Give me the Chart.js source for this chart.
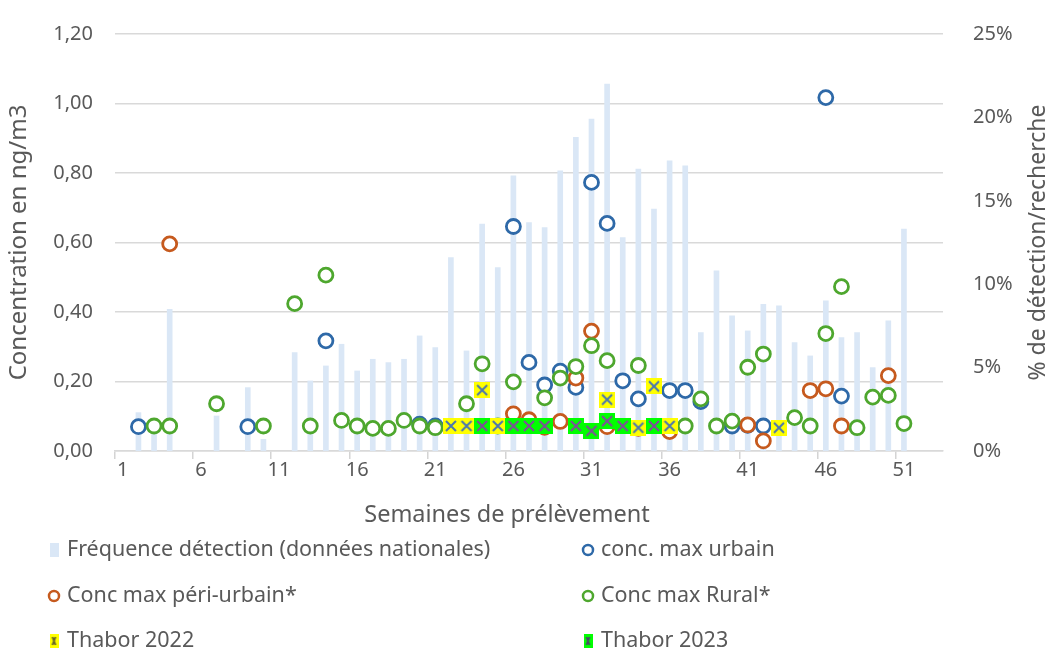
<!DOCTYPE html>
<html>
<head>
<meta charset="utf-8">
<script src="https://cdn.jsdelivr.net/npm/chart.js@4.4.0/dist/chart.umd.min.js"></script>
<style>
  html, body { margin: 0; padding: 0; background: #fff; }
  canvas { display: block; }
</style>
</head>
<body>
<canvas id="chart" width="1050" height="652"></canvas>
<script>
// semaines 1..53
const weeks = [1, 2, 3, 4, 5, 6, 7, 8, 9, 10, 11, 12, 13, 14, 15, 16, 17, 18, 19, 20,
  21, 22, 23, 24, 25, 26, 27, 28, 29, 30, 31, 32, 33, 34, 35, 36, 37, 38, 39, 40,
  41, 42, 43, 44, 45, 46, 47, 48, 49, 50, 51, 52, 53];

// fréquence de détection (%), données nationales
const frequence = [null, 2.3, 1.5, 8.5, null, null, 2.1, null, 3.8, 0.7,
  null, 5.9, 4.2, 5.1, 6.4, 4.8, 5.5, 5.3, 5.5, 6.9,
  6.2, 11.6, 6.0, 13.6, 11.0, 16.5, 13.7, 13.4, 16.8, 18.8,
  19.9, 22.0, 12.8, 16.9, 14.5, 17.4, 17.1, 7.1, 10.8, 8.1,
  7.2, 8.8, 8.7, 6.5, 5.7, 9.0, 6.8, 7.1, 5.0, 7.8,
  13.3, null, null];

// concentrations max (ng/m3)
const urbain = [null, 0.07, null, null, null, null, null, null, 0.07, null,
  null, null, null, 0.317, null, null, null, null, null, 0.077,
  0.072, null, null, null, null, 0.646, 0.255, 0.19, 0.23, 0.183,
  0.773, 0.655, 0.202, 0.15, null, 0.174, 0.174, 0.142, null, 0.072,
  0.074, 0.072, null, null, null, 1.017, 0.158, null, null, null,
  null, null, null];

const periUrbain = [null, null, null, 0.596, null, null, null, null, null, null,
  null, null, null, null, null, null, null, null, null, null,
  null, null, null, null, null, 0.107, 0.09, 0.068, 0.085, 0.21,
  0.345, 0.07, null, 0.065, null, 0.056, null, null, null, null,
  0.075, 0.029, null, null, 0.174, 0.179, 0.072, null, null, 0.217,
  null, null, null];

const rural = [null, null, 0.072, 0.072, null, null, 0.136, null, null, 0.072,
  null, 0.424, 0.072, 0.506, 0.088, 0.072, 0.065, 0.065, 0.088, 0.072,
  0.067, null, 0.136, 0.251, 0.072, 0.199, null, 0.153, 0.21, 0.243,
  0.303, 0.26, null, 0.246, null, null, 0.072, 0.15, 0.072, 0.086,
  0.241, 0.279, null, 0.096, 0.072, 0.338, 0.473, 0.067, 0.155, 0.16,
  0.079, null, null];

const thabor2022 = [null, null, null, null, null, null, null, null, null, null,
  null, null, null, null, null, null, null, null, null, null,
  null, 0.072, 0.072, 0.175, 0.072, null, null, null, null, null,
  null, 0.148, null, 0.067, 0.186, 0.072, null, null, null, null,
  null, null, 0.067, null, null, null, null, null, null, null,
  null, null, null];

const thabor2023 = [null, null, null, null, null, null, null, null, null, null,
  null, null, null, null, null, null, null, null, null, null,
  null, null, null, 0.072, null, 0.072, 0.072, 0.072, null, 0.072,
  0.058, 0.086, 0.072, null, 0.072, null, null, null, null, null,
  null, null, null, null, null, null, null, null, null, null,
  null, null, null];

const TEXT = '#595959';
const FONT = '"Noto Sans", sans-serif';
const BAR = '#dae7f6';
const BLUE = '#2e69a8';
const ORANGE = '#c65a1e';
const GREEN = '#4ea72e';
const X_TITLE = 'Semaines de prélèvement';
const RIGHT_TITLE = '% de détection/recherche';

function crossMarker(fill, stroke, w, h) {
  const c = document.createElement('canvas');
  c.width = w;
  c.height = h;
  const g = c.getContext('2d');
  g.fillStyle = fill;
  g.fillRect(0, 0, w, h);
  g.strokeStyle = stroke;
  g.lineWidth = 2;
  g.beginPath();
  g.moveTo(3, 3); g.lineTo(w - 3, h - 3);
  g.moveTo(w - 3, 3); g.lineTo(3, h - 3);
  g.stroke();
  return c;
}

const mark2022 = crossMarker('#ffff00', '#4a76b0', 16, 16);
const mark2023 = crossMarker('#00ff00', '#7f4f9a', 16, 16);
const leg2022 = crossMarker('#ffff00', '#6a6a2a', 9, 14);
const leg2023 = crossMarker('#00ff00', '#4a4a6a', 9, 14);

function circleSet(label, data, color, order) {
  return {
    type: 'line',
    label: label,
    data: data,
    showLine: false,
    yAxisID: 'y',
    pointStyle: 'circle',
    pointRadius: 7,
    pointBorderWidth: 2.8,
    pointBorderColor: color,
    pointBackgroundColor: '#ffffff',
    borderColor: color,
    order: order
  };
}

// légende en 2 colonnes, titre de l'axe X centré sur le graphique, titre de l'axe droit (bas -> haut)
const extras = {
  id: 'extras',
  afterDraw(chart) {
    const ctx = chart.ctx;
    const area = chart.chartArea;
    ctx.save();
    ctx.fillStyle = TEXT;
    ctx.textAlign = 'center';
    ctx.textBaseline = 'middle';
    ctx.font = '23.5px ' + FONT;
    ctx.fillText(X_TITLE, 507, 515);
    ctx.font = '23px ' + FONT;
    ctx.translate(1038, (area.top + area.bottom) / 2);
    ctx.rotate(-Math.PI / 2);
    ctx.fillText(RIGHT_TITLE, 0, 0);
    ctx.restore();

    const cols = [54, 588];
    const rows = [550, 596, 641];
    ctx.save();
    ctx.font = '21.5px ' + FONT;
    ctx.textBaseline = 'middle';
    chart.data.datasets.forEach((ds, i) => {
      const x = cols[i % 2];
      const y = rows[Math.floor(i / 2)];
      if (ds.type === 'bar') {
        ctx.fillStyle = BAR;
        ctx.fillRect(x - 4, y - 7, 9, 14);
      } else if (ds.pointStyle === 'circle') {
        ctx.beginPath();
        ctx.arc(x, y, 5, 0, Math.PI * 2);
        ctx.fillStyle = '#fff';
        ctx.fill();
        ctx.lineWidth = 2.5;
        ctx.strokeStyle = ds.pointBorderColor;
        ctx.stroke();
      } else {
        const img = ds.legendMark;
        ctx.drawImage(img, x - img.width / 2, y - img.height / 2);
      }
      ctx.fillStyle = TEXT;
      ctx.fillText(ds.label, x + 13, y);
    });
    ctx.restore();
  }
};

new Chart(document.getElementById('chart'), {
  data: {
    labels: weeks,
    datasets: [
      {
        type: 'bar',
        label: 'Fréquence détection (données nationales)',
        data: frequence,
        yAxisID: 'y1',
        backgroundColor: BAR,
        barThickness: 5,
        order: 10
      },
      circleSet('conc. max urbain', urbain, BLUE, 5),
      circleSet('Conc max péri-urbain*', periUrbain, ORANGE, 4),
      circleSet('Conc max Rural*', rural, GREEN, 3),
      {
        type: 'line',
        label: 'Thabor 2022',
        data: thabor2022,
        showLine: false,
        yAxisID: 'y',
        pointStyle: mark2022,
        legendMark: leg2022,
        order: 2
      },
      {
        type: 'line',
        label: 'Thabor 2023',
        data: thabor2023,
        showLine: false,
        yAxisID: 'y',
        pointStyle: mark2023,
        legendMark: leg2023,
        order: 1
      }
    ]
  },
  options: {
    responsive: false,
    animation: false,
    devicePixelRatio: 1,
    layout: { padding: { top: 30, right: 0, bottom: 120, left: 0 } },
    plugins: {
      legend: { display: false },
      tooltip: { enabled: false }
    },
    scales: {
      x: {
        type: 'category',
        offset: true,
        afterFit: (s) => { s.height = 81; },
        grid: {
          offset: true,
          drawOnChartArea: false,
          tickLength: 8,
          lineWidth: 1.5,
          color: (c) => (c.index % 5 === 0 ? '#d4d4d4' : 'transparent')
        },
        border: { display: true, color: '#d9d9d9', width: 1.5 },
        ticks: {
          autoSkip: false,
          maxRotation: 0,
          padding: -1,
          color: TEXT,
          font: { family: FONT, size: 20 },
          callback: function (v, i) { return i % 5 === 0 ? this.getLabelForValue(v) : ''; }
        }
      },
      y: {
        position: 'left',
        min: 0,
        max: 1.2,
        afterFit: (s) => { s.width = 115; },
        grid: { color: '#d9d9d9', lineWidth: 1.5, drawTicks: false },
        border: { display: false },
        ticks: {
          stepSize: 0.2,
          padding: 22,
          color: TEXT,
          font: { family: FONT, size: 20 },
          callback: (v) => v.toFixed(2).replace('.', ',')
        },
        title: {
          display: true,
          text: 'Concentration en ng/m3',
          color: TEXT,
          font: { family: FONT, size: 24 },
          padding: { top: 5, bottom: 0 }
        }
      },
      y1: {
        position: 'right',
        min: 0,
        max: 25,
        afterFit: (s) => { s.width = 107; },
        grid: { display: false, drawOnChartArea: false },
        border: { display: false },
        ticks: {
          stepSize: 5,
          padding: 22,
          color: TEXT,
          font: { family: FONT, size: 20 },
          callback: (v) => v + '%'
        }
      }
    }
  },
  plugins: [extras]
});
</script>
</body>
</html>
